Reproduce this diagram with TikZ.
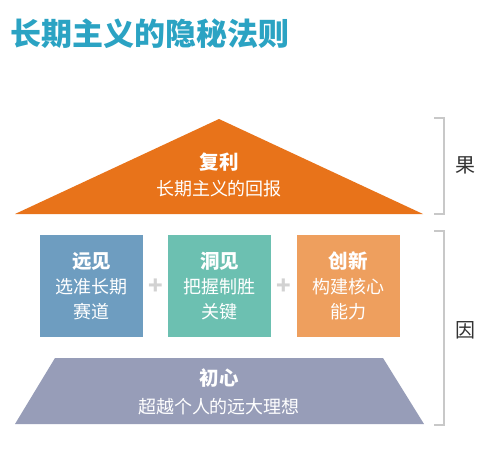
\documentclass[tikz,border=0pt]{standalone}
\usepackage{fontspec}
\setmainfont{Noto Sans CJK SC}
\definecolor{titlec}{HTML}{2BA3C3}
\definecolor{orangec}{HTML}{E8731A}
\definecolor{bluec}{HTML}{6E9DC0}
\definecolor{tealc}{HTML}{6CC0B1}
\definecolor{lorange}{HTML}{EE9F5E}
\definecolor{purplec}{HTML}{979DB8}
\definecolor{brc}{HTML}{C8C8C8}
\definecolor{plusc}{HTML}{D2D2D2}
\begin{document}
\begin{tikzpicture}[x=1pt,y=-1pt,
  boxst/.style={minimum width=103pt,minimum height=102pt,inner sep=0pt},
  headt/.style={text=white,font=\fontsize{19.5}{22}\selectfont\bfseries},
  bodyt/.style={text=white,font=\fontsize{18}{25}\selectfont,align=center},
  brack/.style={draw=brc,line width=1.6pt},
  sidet/.style={font=\fontsize{20}{22}\selectfont,text=black!80},
  plusst/.style={text=plusc,font=\fontsize{24}{24}\selectfont\bfseries}]
\useasboundingbox (0,0) rectangle (491,451);
\fill[white] (0,0) rectangle (491,451);
% title
\node[anchor=west,text=titlec,font=\fontsize{31}{34}\selectfont\bfseries,inner sep=0pt] (title) at (10,34) {长期主义的隐秘法则};
% triangle
\fill[orangec] (219,119) -- (423,214) -- (15,214) -- cycle;
\node[headt] (fuli) at (219,162) {复利};
\node[bodyt] (fulit) at (219,189) {长期主义的回报};
% boxes
\node[boxst,fill=bluec] (b1) at (91.5,286) {};
\node[boxst,fill=tealc] (b2) at (219.5,286) {};
\node[boxst,fill=lorange] (b3) at (348,286) {};
\node[headt] (h1) at (91.5,261) {远见};
\node[bodyt,anchor=north] (t1) at (91.5,275) {选准长期\\赛道};
\node[headt] (h2) at (219.5,261) {洞见};
\node[bodyt,anchor=north] (t2) at (219.5,275) {把握制胜\\关键};
\node[headt] (h3) at (348,261) {创新};
\node[bodyt,anchor=north] (t3) at (348,275) {构建核心\\能力};
\node[plusst] (p1) at (155.5,287) {+};
\node[plusst] (p2) at (284,287) {+};
% trapezoid
\fill[purplec] (55,358) -- (383,358) -- (424,424) -- (15,424) -- cycle;
\node[headt] (chu) at (219,378) {初心};
\node[bodyt] (chut) at (219,407) {超越个人的远大理想};
% brackets
\draw[brack] (434,118) -- (444,118) -- (444,214) -- (434,214);
\draw[brack] (434,231) -- (444,231) -- (444,425) -- (434,425);
\node[sidet] (guo) at (465,165) {果};
\node[sidet] (yin) at (465,330) {因};
\end{tikzpicture}
\end{document}
